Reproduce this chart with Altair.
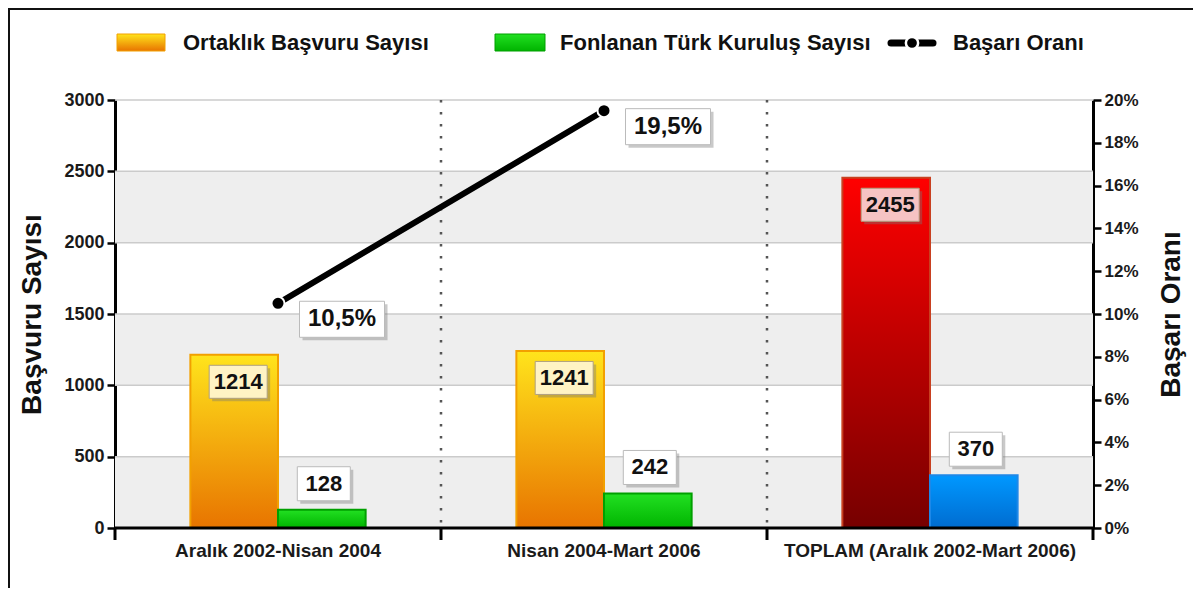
import altair as alt
import pandas as pd

# ---------------- data ----------------
periods = ["Aralık 2002-Nisan 2004", "Nisan 2004-Mart 2006", "TOPLAM (Aralık 2002-Mart 2006)"]
applications = [1214, 1241, 2455]
funded = [128, 242, 370]
rate_periods = ["Aralık 2002-Nisan 2004", "Nisan 2004-Mart 2006"]
rates = [0.105, 0.195]
series_names = ["Ortaklık Başvuru Sayısı", "Fonlanan Türk Kuruluş Sayısı", "Başarı Oranı"]
left_ticks = [0, 500, 1000, 1500, 2000, 2500, 3000]
right_ticks = [0.0, 0.02, 0.04, 0.06, 0.08, 0.10, 0.12, 0.14, 0.16, 0.18, 0.20]
band_lo = [0, 1000, 2000]
band_hi = [500, 1500, 2500]
y_title = "Başvuru Sayısı"
y2_title = "Başarı Oranı"

# ---------------- tables ----------------
rows = []
for i, p in enumerate(periods):
    kind = "total" if p.startswith("TOPLAM") else "period"
    rows.append({"period": p, "series": "app", "value": applications[i], "kind": kind})
    rows.append({"period": p, "series": "fund", "value": funded[i], "kind": kind})
bars_df = pd.DataFrame(rows)
rate_df = pd.DataFrame({"period": rate_periods, "rate": rates})
bands_df = pd.DataFrame({"lo": band_lo, "hi": band_hi})
grid_df = pd.DataFrame({"v": left_ticks[1:]})
sep_df = pd.DataFrame({"period": periods[1:]})
cat_df = pd.DataFrame({"period": periods})
one = pd.DataFrame({"k": [0]})

W, H = 978, 428
FONT = "Liberation Sans"

xscale = alt.Scale(domain=periods, paddingInner=0, paddingOuter=0)
xoff_scale = alt.Scale(domain=["app", "fund"], paddingInner=0, paddingOuter=0.86)
yscale = alt.Scale(domain=[0, 3000], nice=False, zero=True)
yscale_r = alt.Scale(domain=[0, 0.2], nice=False, zero=True)


def grad(top, bottom):
    return {"gradient": "linear", "x1": 0, "y1": 0, "x2": 0, "y2": 1,
            "stops": [{"offset": 0, "color": top}, {"offset": 1, "color": bottom}]}


ORANGE = grad("#FFE41C", "#E87400")
RED = grad("#FF0000", "#760000")
GREEN = grad("#22E022", "#00B400")
BLUE = grad("#0098FF", "#006CD0")

left_axis = alt.Axis(orient="left", values=left_ticks, format="d", title=y_title, titleFont=FONT,
                     titleFontSize=28, titleFontWeight="bold", titleColor="#111", titlePadding=17,
                     labelFont=FONT, labelFontSize=18, labelFontWeight="bold", labelColor="#1a1a1a",
                     domainColor="black", domainWidth=3, tickColor="black", tickWidth=2.5,
                     tickSize=8, labelPadding=3, grid=False)

right_axis = alt.Axis(orient="right", values=right_ticks, format=".0%", title=y2_title,
                      titleFont=FONT, titleFontSize=28, titleFontWeight="bold", titleColor="#111",
                      titleAngle=270, titleBaseline="top", titlePadding=19,
                      labelFont=FONT, labelFontSize=17, labelFontWeight="bold", labelColor="#1a1a1a",
                      domainColor="black", domainWidth=3, tickColor="black", tickWidth=2.5,
                      tickSize=8, labelPadding=3, grid=False)


def X(**kw):
    return alt.X("period:N", scale=xscale, axis=None, sort=periods, **kw)


def XO():
    return alt.XOffset("series:N", scale=xoff_scale)


def Y(field, axis=None):
    return alt.Y(field, scale=yscale, axis=axis)


def YR(axis=None):
    return alt.Y("rate:Q", scale=yscale_r, axis=axis)


# background bands and grid
bands = alt.Chart(bands_df).mark_rect(fill="#EEEEEE").encode(
    x=alt.value(0), x2=alt.value(W), y=Y("lo:Q", left_axis), y2="hi:Q")
grid = alt.Chart(grid_df).mark_rule(color="#CBCBCB", strokeWidth=1.5).encode(
    y=Y("v:Q"), x=alt.value(0), x2=alt.value(W))
seps = alt.Chart(sep_df).mark_rule(color="#555555", strokeWidth=2.5, strokeDash=[2.5, 9.5]).encode(
    x=X(bandPosition=0), y=alt.value(0), y2=alt.value(H))


def bar_layer(series, kind, fill, stroke):
    return alt.Chart(bars_df).transform_filter(
        f"datum.series == '{series}' && datum.kind == '{kind}'"
    ).mark_bar(fill=fill, stroke=stroke, strokeWidth=2).encode(
        x=X(), xOffset=XO(), y=Y("value:Q"))


bars = [
    bar_layer("app", "period", ORANGE, "#F2A000"),
    bar_layer("app", "total", RED, "#C84020"),
    bar_layer("fund", "period", GREEN, "#00A000"),
    bar_layer("fund", "total", BLUE, "#1E88E8"),
]

# x axis drawn by hand: domain line, boundary ticks, category labels
x_domain = alt.Chart(one).mark_rule(color="black", strokeWidth=3).encode(
    x=alt.value(0), x2=alt.value(W), y=alt.value(H))
bticks = alt.Chart(cat_df).mark_rule(color="black", strokeWidth=3).encode(
    x=X(bandPosition=0), y=alt.value(H), y2=alt.value(H + 12))
bticks_end = alt.Chart(one).mark_rule(color="black", strokeWidth=3).encode(
    x=alt.value(W), y=alt.value(H), y2=alt.value(H + 12))
x_labels = alt.Chart(cat_df).mark_text(font=FONT, fontSize=19, fontWeight="bold", color="#1a1a1a",
                                       baseline="middle", align="center").encode(
    x=X(), y=alt.value(H + 23), text="period:N")

# label boxes (custom symbol paths; unit = half box width)
IN_BOX = "M-0.862,0.362H1.138V1.5H-0.862Z"
IN_SHADOW = "M-0.759,0.465H1.241V1.603H-0.759Z"
UP_BOX = "M-0.925,-1.623H1.075V-0.339H-0.925Z"
UP_SHADOW = "M-0.812,-1.51H1.188V-0.226H-0.812Z"
LN_BOX = "M0.506,-0.048H2.506V0.8H0.506Z"
LN_SHADOW = "M0.577,0.023H2.577V0.871H0.577Z"

app_df = bars_df[bars_df.series == "app"]
fund_df = bars_df[bars_df.series == "fund"]

in_shadow = alt.Chart(app_df).mark_point(shape=IN_SHADOW, size=58 ** 2, filled=True, fill="#777777",
                                         opacity=0.4, strokeWidth=0).encode(
    x=X(), xOffset=XO(), y=Y("value:Q"))
in_box = alt.Chart(app_df).mark_point(shape=IN_BOX, size=58 ** 2, filled=True, opacity=1,
                                      stroke="#B0A080", strokeWidth=1).encode(
    x=X(), xOffset=XO(), y=Y("value:Q"),
    fill=alt.Fill("kind:N", scale=alt.Scale(domain=["period", "total"], range=["#FFF3C4", "#F6C3C3"]),
                  legend=None))
in_text = alt.Chart(app_df).mark_text(dx=4, dy=27, font=FONT, fontSize=22, fontWeight="bold",
                                      color="#111", baseline="middle", align="center").encode(
    x=X(), xOffset=XO(), y=Y("value:Q"), text="value:Q")

up_shadow = alt.Chart(fund_df).mark_point(shape=UP_SHADOW, size=53 ** 2, filled=True, fill="#777777",
                                          opacity=0.4, strokeWidth=0).encode(
    x=X(), xOffset=XO(), y=Y("value:Q"))
up_box = alt.Chart(fund_df).mark_point(shape=UP_BOX, size=53 ** 2, filled=True, fill="white", opacity=1,
                                       stroke="#BBBBBB", strokeWidth=1).encode(
    x=X(), xOffset=XO(), y=Y("value:Q"))
up_text = alt.Chart(fund_df).mark_text(dx=2, dy=-26, font=FONT, fontSize=22, fontWeight="bold",
                                       color="#111", baseline="middle", align="center").encode(
    x=X(), xOffset=XO(), y=Y("value:Q"), text="value:Q")

# rate line (right axis)
line = alt.Chart(rate_df).mark_line(color="black", strokeWidth=6, strokeCap="round").encode(
    x=X(), y=YR(right_axis))
pts = alt.Chart(rate_df).mark_point(filled=True, fill="black", stroke="white", strokeWidth=2,
                                    size=170, opacity=1).encode(x=X(), y=YR())
ln_shadow = alt.Chart(rate_df).mark_point(shape=LN_SHADOW, size=85 ** 2, filled=True, fill="#777777",
                                          opacity=0.4, strokeWidth=0).encode(x=X(), y=YR())
ln_box = alt.Chart(rate_df).mark_point(shape=LN_BOX, size=85 ** 2, filled=True, fill="white", opacity=1,
                                       stroke="#BBBBBB", strokeWidth=1).encode(x=X(), y=YR())
ln_text = alt.Chart(rate_df).transform_calculate(
    lbl="replace(format(datum.rate * 100, '.1f'), '.', ',') + '%'"
).mark_text(dx=64, dy=16, font=FONT, fontSize=24, fontWeight="bold", color="#111",
            baseline="middle", align="center").encode(x=X(), y=YR(), text="lbl:N")

# legend (manual)
LEG_Y = -57
leg_font = dict(font=FONT, fontSize=22, fontWeight="bold", color="#111", align="left", baseline="middle")
leg = [
    alt.Chart(one).mark_rect(fill=ORANGE, stroke="#F2A000", strokeWidth=1).encode(
        x=alt.value(2), x2=alt.value(50), y=alt.value(LEG_Y - 9), y2=alt.value(LEG_Y + 8)),
    alt.Chart(one).mark_text(**leg_font).encode(
        x=alt.value(68), y=alt.value(LEG_Y), text=alt.value(series_names[0])),
    alt.Chart(one).mark_rect(fill=GREEN, stroke="#00A000", strokeWidth=1).encode(
        x=alt.value(380), x2=alt.value(430), y=alt.value(LEG_Y - 9), y2=alt.value(LEG_Y + 8)),
    alt.Chart(one).mark_text(**leg_font).encode(
        x=alt.value(445), y=alt.value(LEG_Y), text=alt.value(series_names[1])),
    alt.Chart(one).mark_rule(color="black", strokeWidth=7, strokeCap="round").encode(
        x=alt.value(776), x2=alt.value(818), y=alt.value(LEG_Y)),
    alt.Chart(one).mark_point(filled=True, fill="black", stroke="white", strokeWidth=2.5, size=150,
                              opacity=1).encode(x=alt.value(797), y=alt.value(LEG_Y)),
    alt.Chart(one).mark_text(**leg_font).encode(
        x=alt.value(838), y=alt.value(LEG_Y), text=alt.value(series_names[2])),
    # frame (left and top edges)
    alt.Chart(one).mark_rule(color="#111", strokeWidth=2).encode(
        x=alt.value(-106), y=alt.value(-92), y2=alt.value(493)),
    alt.Chart(one).mark_rule(color="#111", strokeWidth=2).encode(
        x=alt.value(-107), x2=alt.value(1082), y=alt.value(-91)),
]

chart = alt.layer(
    bands, grid, seps, *bars, x_domain, bticks, bticks_end, x_labels,
    in_shadow, in_box, in_text, up_shadow, up_box, up_text,
    line, pts, ln_shadow, ln_box, ln_text, *leg
).resolve_scale(y="independent").properties(
    width=W, height=H,
    padding={"left": 107, "top": 92, "right": 100, "bottom": 60},
    autosize=alt.AutoSizeParams(type="none"),
    background="white",
).configure_view(strokeWidth=0, fill="white")

chart.save("out.html", embed_options={"renderer": "svg", "actions": False})
